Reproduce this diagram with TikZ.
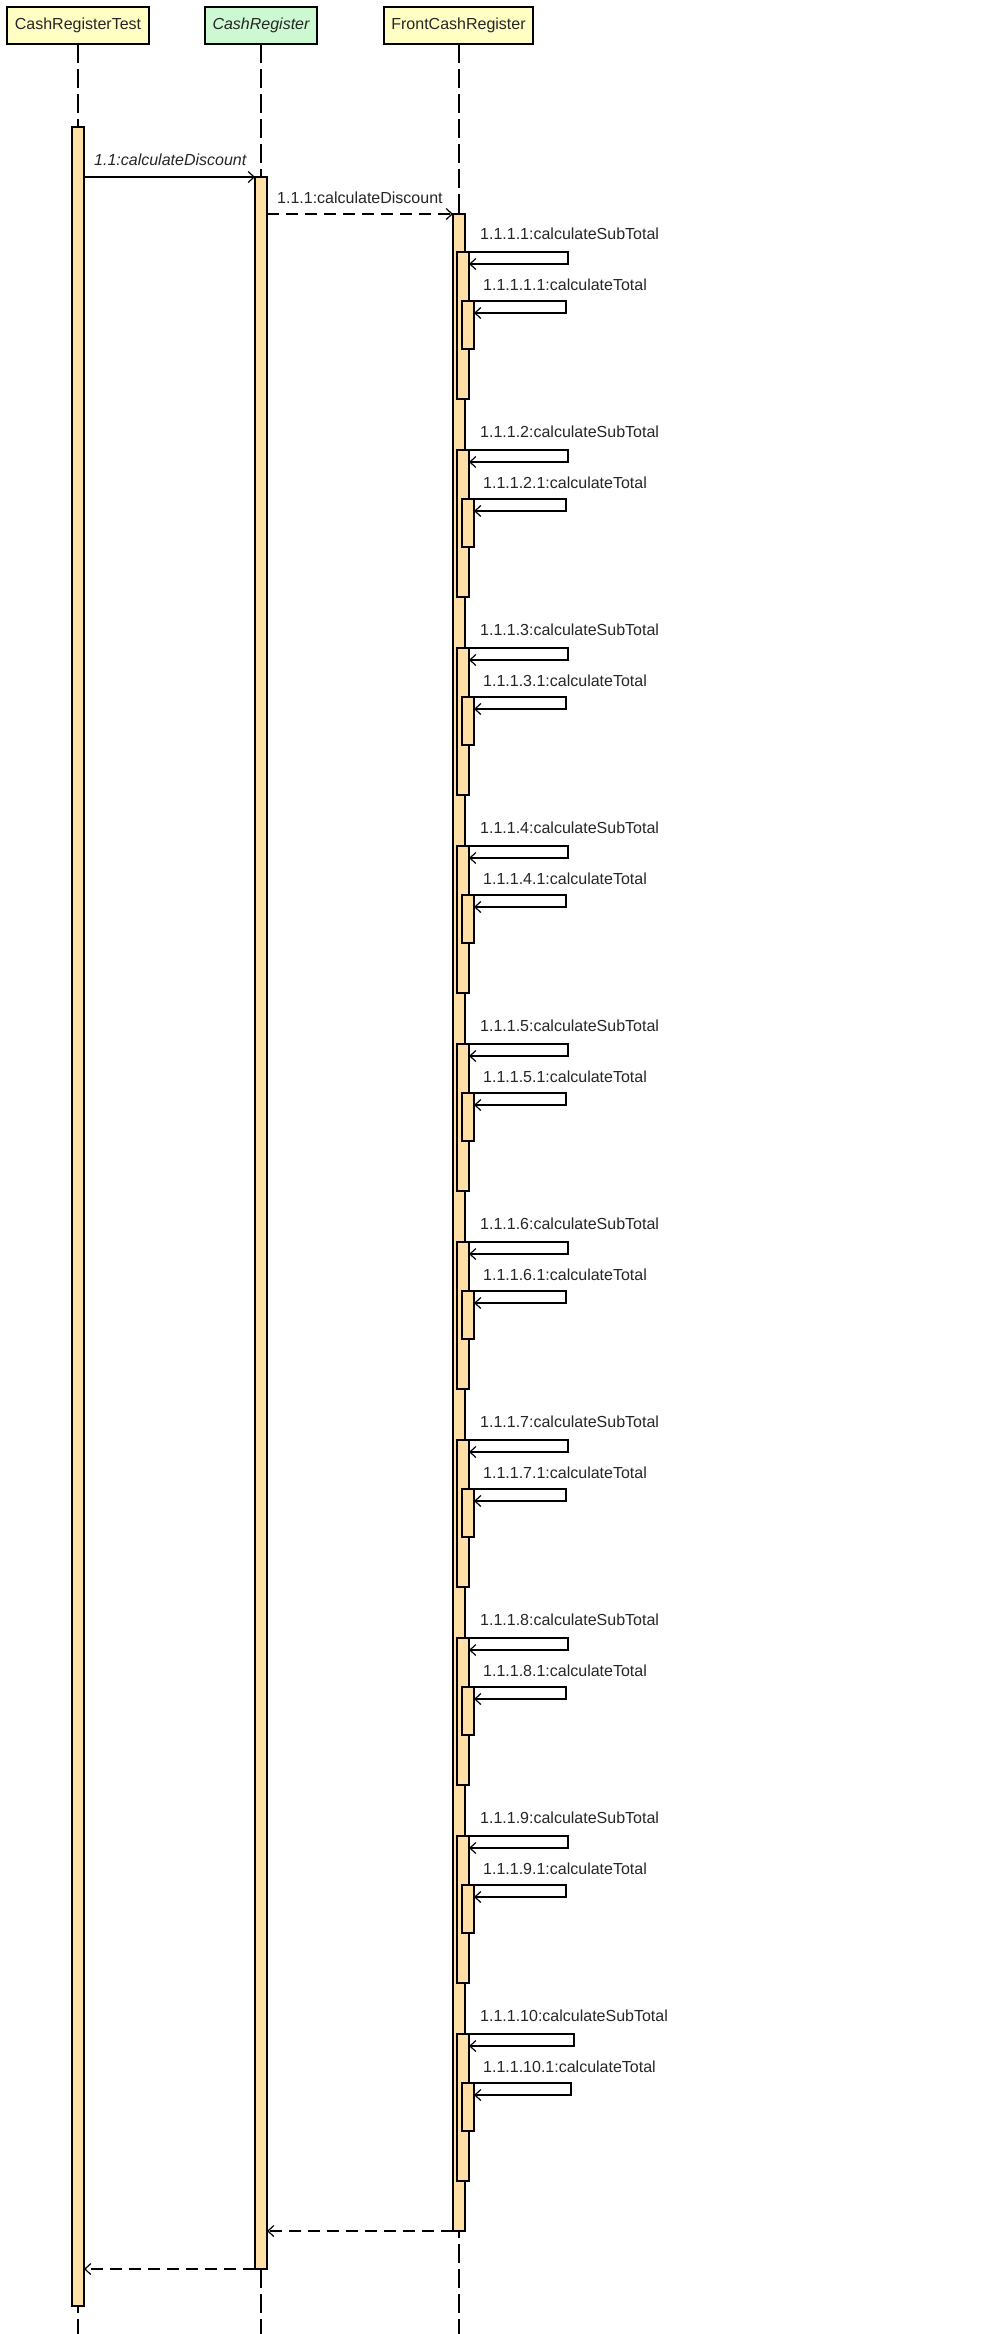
\documentclass[tikz,border=0pt]{standalone}
\usepackage{fontspec}
\setmainfont{Liberation Sans}
\usetikzlibrary{arrows.meta}
\definecolor{hdryellow}{HTML}{FFFFC4}
\definecolor{hdrgreen}{HTML}{CCF8D2}
\definecolor{actfill}{HTML}{FFDFA6}
\definecolor{txtgray}{HTML}{262626}
\tikzset{
  hdr/.style={draw=black, line width=1.3pt, minimum height=37pt, inner sep=0pt, outer sep=0pt, font=\fontsize{16}{19}\selectfont, text=txtgray},
  life/.style={line width=1.2pt, dash pattern=on 19pt off 6pt},
  act/.style={draw=black, fill=actfill, line width=1.2pt, minimum width=12pt, inner sep=0pt, outer sep=0pt, anchor=north},
  msg/.style={line width=1.2pt, -{Straight Barb[length=6pt,width=11pt,line width=1.2pt]}},
  ret/.style={msg, dash pattern=on 12pt off 7pt},
  lbl/.style={anchor=base west, inner sep=0pt, font=\fontsize{16}{19}\selectfont, text=txtgray}
}
\begin{document}
\begin{tikzpicture}[x=1pt,y=-1pt]
\useasboundingbox[fill=white] (0,0) rectangle (1002,2334);
% headers
\node[hdr, fill=hdryellow, minimum width=142pt] (crt) at (78,25.5) {CashRegisterTest};
\node[hdr, fill=hdrgreen, minimum width=112pt] (cr) at (261,25.5) {\itshape CashRegister};
\node[hdr, fill=hdryellow, minimum width=149pt] (fcr) at (458.5,25.5) {FrontCashRegister};
% lifelines
\coordinate (crtend) at (78,2334);
\coordinate (crend) at (261,2334);
\coordinate (fcrend) at (459,2334);
\draw[life] (crt.south) -- (crtend);
\draw[life] (cr.south) -- (crend);
\draw[life] (fcr.south -| fcrend) -- (fcrend);
% main activations
\node[act, minimum height=2179pt] (crtact) at (78,127) {};
\node[act, minimum height=2092pt] (cract) at (261,177) {};
\node[act, minimum height=2017pt] (fcract) at (459,214) {};
% calls
\draw[msg] (cract.north west -| crtact.east) -- (cract.north west);
\node[lbl] (l11) at (94,165) {\itshape 1.1:calculateDiscount};
\draw[ret] (fcract.north west -| cract.east) -- (fcract.north west);
\node[lbl] (l111) at (277,203) {1.1.1:calculateDiscount};
% self calls
\foreach \k in {0,...,9}{
  \pgfmathtruncatemacro{\n}{\k+1}
  \pgfmathtruncatemacro{\d}{198*\k}
  \pgfmathtruncatemacro{\xa}{\k==9 ? 574 : 568}
  \pgfmathtruncatemacro{\xb}{\k==9 ? 571 : 566}
  \node[act, minimum height=147pt] (sub\n) at (463,252+\d) {};
  \node[lbl] (lsub\n) at (480,239+\d) {1.1.1.\n:calculateSubTotal};
  \coordinate (ta\n) at (\xa,252+\d);
  \draw[msg] (fcract.east |- sub\n.north) -- (ta\n) -- ++(0,12) -- ([yshift=-12pt]sub\n.north east);
  \node[act, minimum height=48pt] (subsub\n) at (468,301+\d) {};
  \node[lbl] (lsubsub\n) at (483,290+\d) {1.1.1.\n.1:calculateTotal};
  \coordinate (tb\n) at (\xb,301+\d);
  \draw[msg] (sub\n.east |- subsub\n.north) -- (tb\n) -- ++(0,12) -- ([yshift=-12pt]subsub\n.north east);
}
% returns
\draw[ret] (fcract.south west) -- (fcract.south west -| cract.east);
\draw[ret] (cract.south west) -- (cract.south west -| crtact.east);
\end{tikzpicture}
\end{document}
